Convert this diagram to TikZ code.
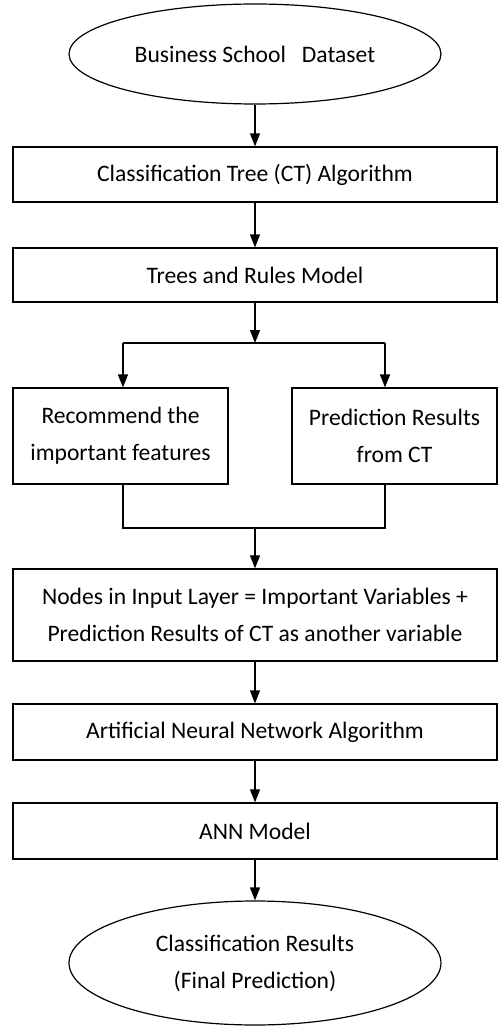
\documentclass[tikz,border=0pt]{standalone}
\usepackage{fontspec}
\setmainfont{Carlito}
\usepackage{tikz}
\usetikzlibrary{arrows.meta,positioning,shapes.geometric}

\begin{document}
\begin{tikzpicture}[
    stepbox/.style={draw, line width=0.6pt, rectangle, minimum width=8.505cm, align=center, inner sep=2pt},
    sidebox/.style={draw, line width=0.6pt, rectangle, minimum height=1.687cm, align=center, inner sep=2pt},
    endnode/.style={draw, line width=0.6pt, ellipse, minimum width=6.537cm, align=center, inner sep=1pt},
    flow/.style={->, >={Triangle[length=6.5pt,width=5pt]}, line width=0.6pt},
    font=\fontsize{11.8}{18.5}\selectfont
]
    \useasboundingbox (0,0) rectangle (8.751,18.030);

    \node[endnode, minimum height=1.757cm] (data) at (4.481,17.081) {Business School~~~Dataset};
    \node[stepbox, minimum height=0.967cm] (ct) at (4.481,14.963) {Classification Tree (CT) Algorithm};
    \node[stepbox, minimum height=0.949cm] (trm) at (4.481,13.197) {Trees and Rules Model};

    \node[sidebox, minimum width=3.778cm] (rec) at (2.118,10.368) {Recommend the\\important features};
    \node[sidebox, minimum width=3.602cm] (pred) at (6.933,10.368) {Prediction Results\\from CT};

    \node[stepbox, minimum height=1.617cm] (inp) at (4.481,7.223) {Nodes in Input Layer = Important Variables +\\Prediction Results of CT as another variable};
    \node[stepbox, minimum height=0.984cm] (annalg) at (4.481,5.166) {Artificial Neural Network Algorithm};
    \node[stepbox, minimum height=0.984cm] (annm) at (4.481,3.427) {ANN Model};
    \node[endnode, minimum height=2.179cm] (result) at (4.481,1.107) {Classification Results\\(Final Prediction)};

    % split and join points
    \coordinate (split) at (4.481,12.002);
    \coordinate (lsplit) at (2.161,12.002);
    \coordinate (rsplit) at (6.766,12.002);
    \coordinate (join) at (4.481,8.751);
    \coordinate (ljoin) at (2.161,8.751);
    \coordinate (rjoin) at (6.766,8.751);

    \draw[flow] (data) -- (ct);
    \draw[flow] (ct) -- (trm);
    \draw[flow] (trm) -- (split);
    \draw[line width=0.6pt] (lsplit) -- (rsplit);
    \draw[flow] (lsplit) -- (lsplit |- rec.north);
    \draw[flow] (rsplit) -- (rsplit |- pred.north);

    \draw[line width=0.6pt] (rec.south -| ljoin) -- (ljoin) -- (rjoin) -- (pred.south -| rjoin);
    \draw[flow] (join) -- (inp);
    \draw[flow] (inp) -- (annalg);
    \draw[flow] (annalg) -- (annm);
    \draw[flow] (annm) -- (result);
\end{tikzpicture}
\end{document}
